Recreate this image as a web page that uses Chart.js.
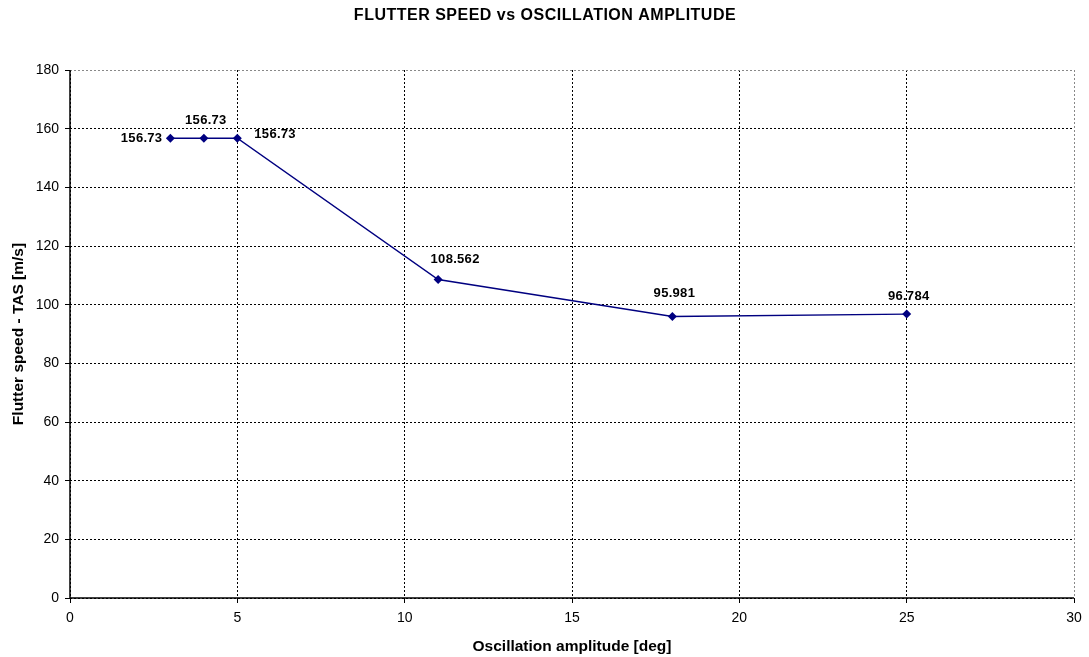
<!DOCTYPE html>
<html>
<head>
<meta charset="utf-8">
<script src="https://cdn.jsdelivr.net/npm/chart.js@4"></script>
<style>
  html, body { margin: 0; padding: 0; background: #fff; }
  #wrap { width: 1089px; height: 657px; position: relative; }
</style>
</head>
<body>
<div id="wrap"><canvas id="flutterChart"></canvas></div>
<script>
// Data
const amplitudes = [3, 4, 5, 11, 18, 25];
const flutterSpeeds = [156.73, 156.73, 156.73, 108.562, 95.981, 96.784];
const pointLabels = ['156.73', '156.73', '156.73', '108.562', '95.981', '96.784'];

// where each value label sits relative to its point: [align, dx, dy]
const labelPlacement = [
  ['right', -8, 0],
  ['center', 2, -18],
  ['left', 17, -4],
  ['center', 17, -20],
  ['center', 2, -23],
  ['center', 2, -18]
];

const navy = '#000080';
const fontFamily = '"Liberation Sans", Arial, sans-serif';

// Title drawn by hand so the plot area can be placed exactly
const titlePlugin = {
  id: 'titleText',
  afterDraw(chart) {
    const ctx = chart.ctx;
    ctx.save();
    ctx.font = 'bold 16px ' + fontFamily;
    ctx.letterSpacing = '0.5px';
    ctx.fillStyle = '#000';
    ctx.textAlign = 'center';
    ctx.textBaseline = 'middle';
    ctx.fillText('FLUTTER SPEED vs OSCILLATION AMPLITUDE', 545, 16);
    ctx.restore();
  }
};

// Solid axis lines on left and bottom (grid lines stay dotted)
const axisLines = {
  id: 'axisLines',
  beforeDatasetsDraw(chart) {
    const { ctx, chartArea } = chart;
    ctx.save();
    ctx.strokeStyle = '#000';
    ctx.lineWidth = 1.5;
    ctx.setLineDash([]);
    ctx.beginPath();
    ctx.moveTo(chartArea.left, chartArea.top);
    ctx.lineTo(chartArea.left, chartArea.bottom);
    ctx.lineTo(chartArea.right, chartArea.bottom);
    ctx.stroke();
    ctx.restore();
  }
};

// Value labels next to each point
const valueLabels = {
  id: 'valueLabels',
  afterDatasetsDraw(chart) {
    const ctx = chart.ctx;
    const meta = chart.getDatasetMeta(0);
    ctx.save();
    ctx.font = 'bold 13px ' + fontFamily;
    ctx.letterSpacing = '0.3px';
    ctx.fillStyle = '#000';
    ctx.textBaseline = 'middle';
    meta.data.forEach((pt, i) => {
      const [align, dx, dy] = labelPlacement[i];
      ctx.textAlign = align;
      ctx.fillText(pointLabels[i], pt.x + dx, pt.y + dy);
    });
    ctx.restore();
  }
};

const gridColor = edge => c => (c.tick && c.tick.value === edge ? '#888' : '#000');

const ctx = document.getElementById('flutterChart').getContext('2d');
new Chart(ctx, {
  type: 'line',
  data: {
    datasets: [{
      data: amplitudes.map((a, i) => ({ x: a, y: flutterSpeeds[i] })),
      borderColor: navy,
      borderWidth: 1.4,
      backgroundColor: navy,
      pointStyle: 'rectRot',
      pointRadius: 4.5,
      pointBorderWidth: 0,
      pointBackgroundColor: navy,
      tension: 0
    }]
  },
  options: {
    responsive: true,
    maintainAspectRatio: false,
    animation: false,
    layout: { padding: { top: 70, right: 15, left: 0, bottom: 0 } },
    plugins: {
      legend: { display: false },
      tooltip: { enabled: false },
      title: { display: false }
    },
    scales: {
      x: {
        type: 'linear',
        min: 0,
        max: 30,
        afterFit: s => { s.height = 59; },
        ticks: { stepSize: 5, color: '#000', font: { family: fontFamily, size: 14 }, padding: 7 },
        grid: { color: gridColor(30), lineWidth: 1, tickLength: 5, tickColor: '#000' },
        border: { display: false, dash: [2, 2] },
        title: {
          display: true,
          text: 'Oscillation amplitude [deg]',
          color: '#000',
          font: { family: fontFamily, size: 15.5, weight: 'bold' },
          padding: { top: 4, bottom: 1 }
        }
      },
      y: {
        min: 0,
        max: 180,
        afterFit: s => { s.width = 70; },
        ticks: { stepSize: 20, color: '#000', font: { family: fontFamily, size: 14 }, padding: 6 },
        grid: { color: gridColor(180), lineWidth: 1, tickLength: 5, tickColor: '#000' },
        border: { display: false, dash: [2, 2] },
        title: {
          display: true,
          text: 'Flutter speed - TAS [m/s]',
          color: '#000',
          font: { family: fontFamily, size: 15.5, weight: 'bold' },
          padding: { top: 9, bottom: 2 }
        }
      }
    }
  },
  plugins: [titlePlugin, axisLines, valueLabels]
});
</script>
</body>
</html>
